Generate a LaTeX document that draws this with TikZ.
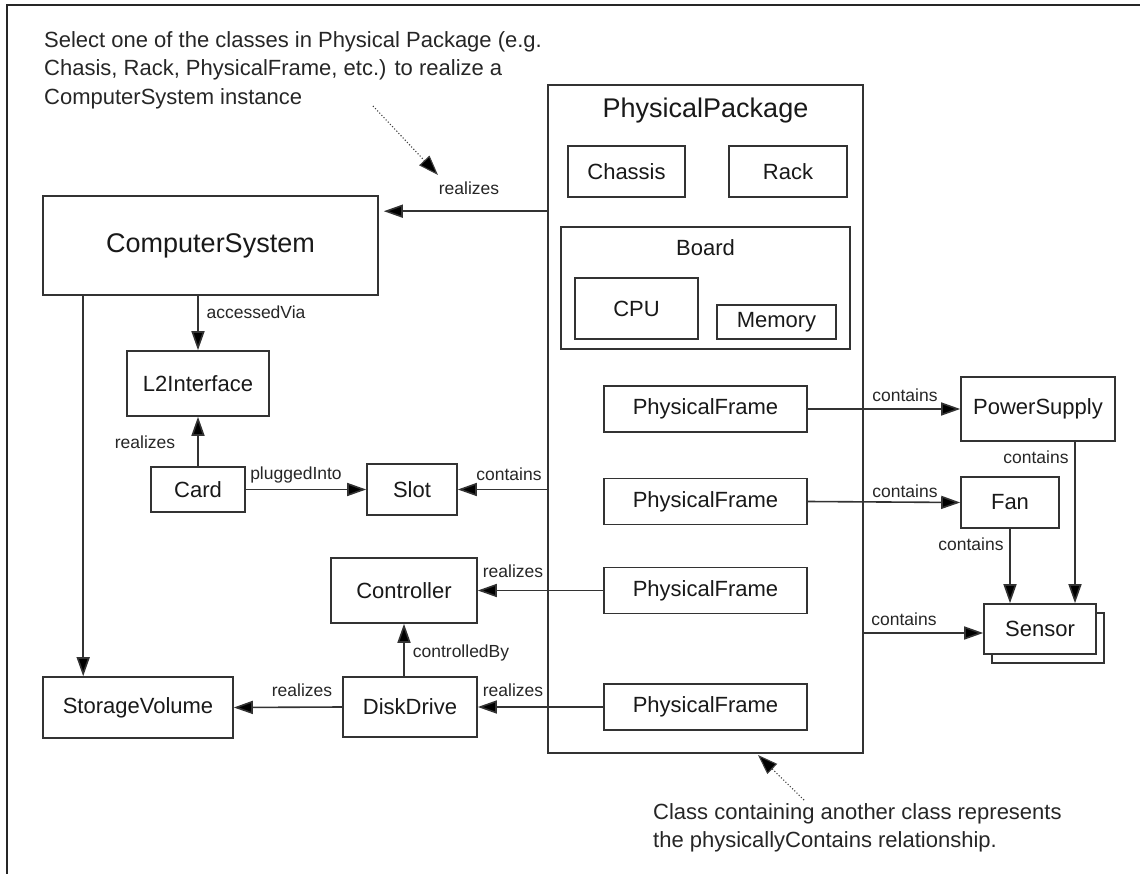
\documentclass[tikz,border=0pt]{standalone}
\usepackage{fontspec}
\setmainfont{Liberation Sans}
\usetikzlibrary{arrows.meta,shadows}
\begin{document}
\begin{tikzpicture}[x=1pt,y=-1pt,
  box/.style={draw=black!80, line width=1.6pt, fill=white, inner sep=0pt,
    text=black!90, font=\fontsize{22}{26}\selectfont},
  bigbox/.style={box, font=\fontsize{27}{32}\selectfont},
  title/.style={inner sep=0pt, text=black!90},
  lbl/.style={inner sep=0pt, text=black!85, font=\fontsize{17.5}{20}\selectfont},
  note/.style={inner sep=0pt, align=left, anchor=north west, text=black!85,
    font=\fontsize{22}{28.5}\selectfont},
  arr/.style={draw=black!80, line width=1.6pt, -{Triangle[length=19pt,width=13pt,fill=black]}},
  hint/.style={draw=black!75, line width=1.1pt, dotted,
    -{Triangle[length=20pt,width=14pt,fill=black]}},
]
\useasboundingbox (0,0) rectangle (1140,874);

% page frame
\draw[black!85, line width=1.5pt] (7,874) -- (7,5) -- (1140,5);

% notes
\node[note] (note1) at (44,31)
  {Select one of the classes in Physical Package (e.g.\\
   Chasis, Rack, PhysicalFrame, etc.) to realize a\\
   ComputerSystem instance};
\node[note] (note2) at (653,803)
  {Class containing another class represents\\
   the physicallyContains relationship.};

% physical package and its contents
\node[box, minimum width=315pt, minimum height=668pt] (pkg) at (705.5,419) {};
\node[title, font=\fontsize{27}{32}\selectfont] (pkgtitle) at (705.5,111) {PhysicalPackage};
\node[box, minimum width=117pt, minimum height=51pt] (chassis) at (626.5,171.5) {Chassis};
\node[box, minimum width=118pt, minimum height=51pt] (rack) at (788,171.5) {Rack};
\node[box, minimum width=289pt, minimum height=122pt] (board) at (705.5,288) {};
\node[title, font=\fontsize{22}{26}\selectfont] (boardtitle) at (705.5,248) {Board};
\node[box, minimum width=123pt, minimum height=61pt] (cpu) at (636.5,308.5) {CPU};
\node[box, minimum width=119pt, minimum height=34pt] (mem) at (776.5,322) {Memory};
\node[box, minimum width=203pt, minimum height=46pt] (pf1) at (705.5,409) {PhysicalFrame};
\node[box, minimum width=203pt, minimum height=46pt] (pf2) at (705.5,501.5) {PhysicalFrame};
\node[box, minimum width=203pt, minimum height=46pt] (pf3) at (705.5,590.5) {PhysicalFrame};
\node[box, minimum width=203pt, minimum height=46pt] (pf4) at (705.5,707) {PhysicalFrame};

% left-hand classes
\node[bigbox, minimum width=335pt, minimum height=99pt] (cs) at (210.5,245.5) {ComputerSystem};
\node[box, minimum width=142pt, minimum height=65pt] (l2) at (198,383.5) {L2Interface};
\node[box, minimum width=94pt, minimum height=45pt] (card) at (198,489.5) {Card};
\node[box, minimum width=90pt, minimum height=51pt] (slot) at (412,489.5) {Slot};
\node[box, minimum width=146pt, minimum height=65pt] (ctrl) at (404,590.5) {Controller};
\node[box, minimum width=134pt, minimum height=60pt] (dd) at (410,707) {DiskDrive};
\node[box, minimum width=190pt, minimum height=61pt] (sv) at (138,707.5) {StorageVolume};

% right-hand classes
\node[box, minimum width=154pt, minimum height=64pt] (ps) at (1038,409) {PowerSupply};
\node[box, minimum width=98pt, minimum height=51pt] (fan) at (1010,502.5) {Fan};
\node[box, minimum width=112pt, minimum height=50pt,
  copy shadow={shadow xshift=8pt, shadow yshift=-9pt, draw=black!80,
    line width=1.6pt, fill=white}] (sensor) at (1040,629) {Sensor};

% relationships
\coordinate (csin) at ([yshift=-16pt]cs.north east);
\draw[arr, shorten >=5pt] (pkg.west |- csin) -- (csin);
\draw[arr] (l2.north |- cs.south) -- (l2.north);
\draw[arr] (card.north) -- (l2.south);
\draw[arr] (card.east) -- (slot.west);
\draw[arr] (pkg.west |- slot.east) -- (slot.east);
\coordinate (cstop) at ([xshift=41pt]cs.south west);
\draw[arr] (cstop) -- (cstop |- sv.north);
\draw[arr] (pf3.west) -- (ctrl.east);
\draw[arr] (dd.north -| ctrl.south) -- (ctrl.south);
\draw[arr] (dd.west) -- (sv.east);
\draw[arr] (pf4.west) -- (dd.east);
\draw[arr] (pf1.east) -- (ps.west);
\draw[arr] (pf2.east) -- (fan.west);
\draw[arr] (fan.south) -- (fan.south |- sensor.north);
\coordinate (psout) at ([xshift=37pt]ps.south);
\draw[arr] (psout) -- (psout |- sensor.north);
\draw[arr] ([yshift=-4pt]pkg.east |- sensor.west) -- ([yshift=-4pt]sensor.west);

% relationship names
\node[lbl] (t1) at (469,188) {realizes};
\node[lbl] (t2) at (256,312) {accessedVia};
\node[lbl] (t3) at (145,442) {realizes};
\node[lbl] (t4) at (296,475) {pluggedInto};
\node[lbl] (t5) at (509,474) {contains};
\node[lbl] (t6) at (513,571) {realizes};
\node[lbl] (t7) at (461,653) {controlledBy};
\node[lbl] (t8) at (302,690) {realizes};
\node[lbl] (t9) at (513,690) {realizes};
\node[lbl] (t10) at (905,395) {contains};
\node[lbl] (t11) at (905,491) {contains};
\node[lbl] (t12) at (904,619) {contains};
\node[lbl] (t13) at (1036,457) {contains};
\node[lbl] (t14) at (971,544) {contains};

% pointers from the notes
\coordinate (h1s) at (373,106);
\coordinate (h1e) at (438,175);
\draw[hint] (h1s) -- (h1e);
\coordinate (h2s) at (804,800);
\coordinate (h2e) at (758,755);
\draw[hint] (h2s) -- (h2e);
\end{tikzpicture}
\end{document}
